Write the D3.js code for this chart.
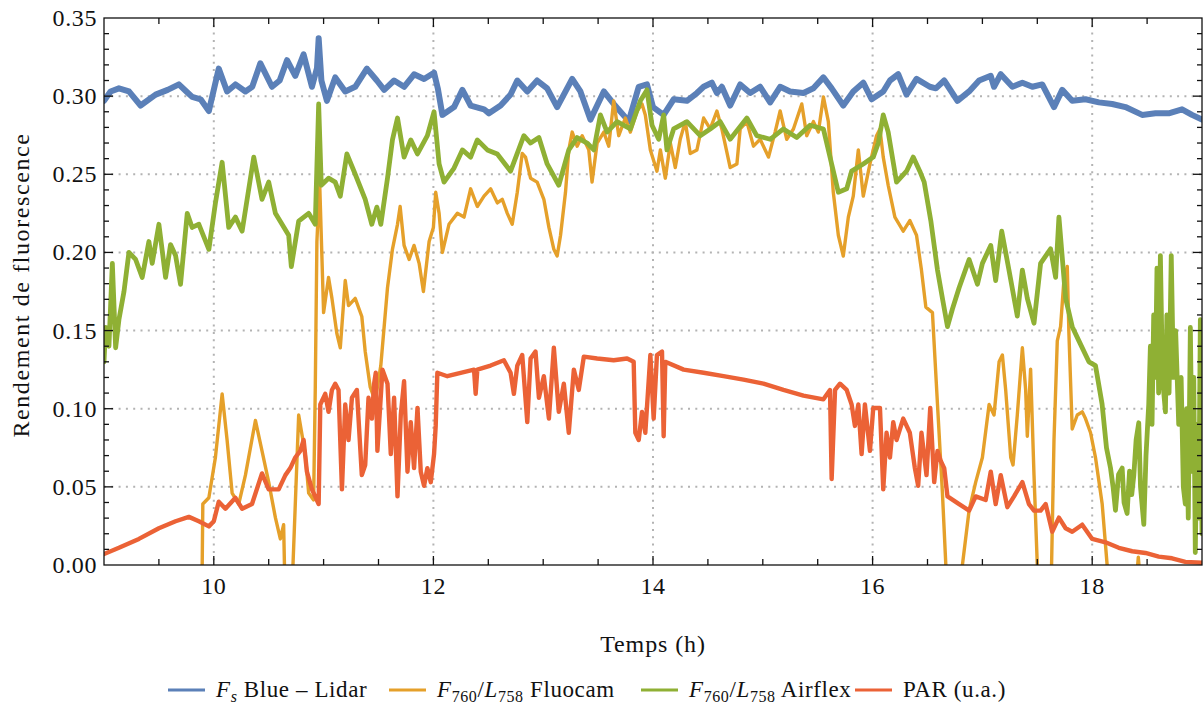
<!DOCTYPE html>
<html><head><meta charset="utf-8">
<script src="https://cdn.jsdelivr.net/npm/d3@7"></script>
</head><body style="margin:0;background:#fff">
<svg id="c" width="1203" height="704" font-family="Liberation Serif"></svg>
<script>
// ---------- data (hours, value) ----------
const fsBlue = [[9.00,0.297],[9.06,0.303],[9.136,0.305],[9.227,0.303],[9.333,0.294],[9.47,0.301],[9.58,0.304],[9.682,0.3075],[9.75,0.303],[9.803,0.2995],[9.88,0.298],[9.955,0.2905],[10.045,0.3176],[10.121,0.303],[10.197,0.3075],[10.288,0.303],[10.35,0.306],[10.424,0.321],[10.53,0.306],[10.60,0.31],[10.667,0.323],[10.742,0.313],[10.818,0.3267],[10.894,0.306],[10.94,0.318],[10.955,0.337],[10.98,0.31],[11.03,0.297],[11.106,0.312],[11.197,0.303],[11.288,0.306],[11.394,0.3176],[11.485,0.31],[11.552,0.304],[11.642,0.31],[11.733,0.306],[11.824,0.314],[11.915,0.311],[12.006,0.315],[12.04,0.305],[12.082,0.288],[12.188,0.293],[12.264,0.304],[12.339,0.294],[12.461,0.2916],[12.506,0.289],[12.612,0.294],[12.703,0.301],[12.764,0.31],[12.855,0.303],[12.945,0.31],[13.036,0.305],[13.127,0.293],[13.264,0.311],[13.339,0.303],[13.43,0.285],[13.552,0.303],[13.642,0.295],[13.779,0.284],[13.87,0.306],[13.945,0.3075],[14.0,0.293],[14.097,0.288],[14.188,0.298],[14.309,0.297],[14.4,0.302],[14.461,0.306],[14.536,0.3086],[14.582,0.302],[14.627,0.306],[14.703,0.294],[14.794,0.3075],[14.885,0.302],[14.976,0.306],[15.067,0.296],[15.158,0.306],[15.248,0.303],[15.37,0.302],[15.461,0.305],[15.552,0.312],[15.627,0.305],[15.733,0.294],[15.824,0.303],[15.915,0.3086],[15.991,0.298],[16.097,0.303],[16.158,0.31],[16.233,0.314],[16.309,0.301],[16.4,0.311],[16.521,0.306],[16.576,0.305],[16.652,0.31],[16.773,0.297],[16.879,0.303],[16.97,0.31],[17.076,0.313],[17.106,0.306],[17.167,0.314],[17.273,0.306],[17.364,0.3086],[17.455,0.306],[17.545,0.3075],[17.652,0.293],[17.727,0.304],[17.818,0.297],[17.939,0.298],[18.061,0.296],[18.182,0.295],[18.303,0.293],[18.455,0.288],[18.576,0.289],[18.697,0.289],[18.818,0.2916],[18.909,0.288],[19.0,0.285]];

const fluocam = [[9.89,-0.03],[9.90,0.039],[9.955,0.043],[10.015,0.069],[10.076,0.1095],[10.121,0.08],[10.167,0.046],[10.227,0.039],[10.288,0.0575],[10.379,0.0925],[10.439,0.073],[10.5,0.053],[10.561,0.0303],[10.606,0.0167],[10.636,0.0258],[10.652,-0.03],[10.705,-0.03],[10.773,0.096],[10.833,0.071],[10.864,0.046],[10.909,0.0416],[10.924,0.112],[10.939,0.207],[10.964,0.245],[11.0,0.1615],[11.045,0.184],[11.076,0.1706],[11.121,0.148],[11.152,0.139],[11.197,0.182],[11.227,0.166],[11.288,0.1706],[11.348,0.159],[11.379,0.1366],[11.424,0.114],[11.47,0.105],[11.521,0.1276],[11.582,0.1774],[11.627,0.202],[11.673,0.218],[11.697,0.2294],[11.733,0.2045],[11.779,0.1955],[11.824,0.2045],[11.87,0.193],[11.909,0.175],[11.961,0.207],[12.0,0.216],[12.021,0.2385],[12.052,0.225],[12.082,0.2],[12.142,0.218],[12.218,0.225],[12.279,0.2226],[12.339,0.2407],[12.4,0.2294],[12.461,0.236],[12.521,0.2407],[12.582,0.2317],[12.627,0.234],[12.673,0.225],[12.718,0.218],[12.764,0.2385],[12.809,0.2633],[12.839,0.261],[12.885,0.2475],[12.945,0.245],[13.006,0.234],[13.052,0.216],[13.097,0.202],[13.127,0.1977],[13.158,0.211],[13.203,0.2385],[13.233,0.2656],[13.264,0.277],[13.309,0.268],[13.355,0.2747],[13.415,0.2656],[13.445,0.245],[13.491,0.27],[13.552,0.277],[13.597,0.268],[13.642,0.297],[13.688,0.2747],[13.748,0.286],[13.794,0.277],[13.855,0.2905],[13.9,0.295],[13.93,0.288],[13.976,0.2656],[14.036,0.252],[14.067,0.2656],[14.112,0.2475],[14.158,0.27],[14.203,0.2543],[14.248,0.2724],[14.294,0.2837],[14.339,0.2633],[14.4,0.2656],[14.461,0.286],[14.521,0.279],[14.582,0.2905],[14.627,0.279],[14.703,0.2543],[14.764,0.2566],[14.794,0.279],[14.855,0.2837],[14.915,0.268],[14.976,0.2724],[15.052,0.261],[15.112,0.277],[15.158,0.2905],[15.218,0.2724],[15.279,0.279],[15.355,0.295],[15.4,0.2747],[15.461,0.2837],[15.506,0.277],[15.552,0.2995],[15.597,0.2837],[15.642,0.2385],[15.688,0.211],[15.733,0.1977],[15.779,0.2226],[15.824,0.236],[15.87,0.2656],[15.915,0.236],[15.976,0.2566],[16.036,0.2747],[16.067,0.279],[16.097,0.261],[16.142,0.243],[16.203,0.2226],[16.279,0.2136],[16.339,0.2204],[16.4,0.211],[16.445,0.1887],[16.485,0.165],[16.545,0.1615],[16.591,0.1027],[16.636,0.046],[16.667,0.0],[16.685,-0.03],[16.80,-0.03],[16.818,0.0],[16.879,0.035],[16.939,0.053],[17.0,0.0688],[17.061,0.1027],[17.106,0.096],[17.152,0.13],[17.182,0.1344],[17.212,0.112],[17.258,0.0688],[17.279,0.064],[17.318,0.096],[17.364,0.139],[17.394,0.112],[17.409,0.0824],[17.439,0.1253],[17.47,0.0575],[17.5,0.0],[17.515,-0.03],[17.606,-0.03],[17.63,0.0],[17.652,0.08],[17.682,0.1434],[17.712,0.1525],[17.742,0.182],[17.773,0.191],[17.788,0.148],[17.818,0.087],[17.864,0.096],[17.909,0.098],[17.939,0.0937],[17.985,0.0846],[18.03,0.0688],[18.091,0.039],[18.136,0.0],[18.152,-0.03],[18.379,-0.03],[18.42,0.005],[18.46,-0.03]];

const airflex = [[9.0,0.13],[9.015,0.152],[9.045,0.14],[9.076,0.193],[9.106,0.139],[9.136,0.157],[9.182,0.175],[9.227,0.2],[9.288,0.1955],[9.348,0.184],[9.409,0.207],[9.439,0.193],[9.5,0.218],[9.561,0.184],[9.606,0.205],[9.652,0.198],[9.697,0.1796],[9.758,0.225],[9.803,0.216],[9.864,0.218],[9.955,0.202],[10.015,0.2317],[10.076,0.2577],[10.136,0.216],[10.197,0.2226],[10.258,0.2136],[10.364,0.261],[10.439,0.234],[10.5,0.245],[10.561,0.225],[10.682,0.211],[10.706,0.191],[10.773,0.22],[10.864,0.225],[10.924,0.218],[10.955,0.295],[10.979,0.243],[11.045,0.2475],[11.106,0.245],[11.152,0.236],[11.212,0.263],[11.288,0.25],[11.379,0.234],[11.439,0.218],[11.485,0.229],[11.521,0.218],[11.582,0.2475],[11.627,0.272],[11.673,0.286],[11.733,0.261],[11.794,0.272],[11.855,0.263],[11.945,0.2747],[12.006,0.29],[12.052,0.2566],[12.097,0.245],[12.188,0.254],[12.264,0.2656],[12.339,0.261],[12.4,0.272],[12.491,0.2656],[12.582,0.263],[12.703,0.252],[12.824,0.2747],[12.885,0.27],[12.961,0.2735],[13.036,0.2566],[13.142,0.243],[13.233,0.2656],[13.309,0.2735],[13.4,0.27],[13.461,0.2656],[13.521,0.288],[13.582,0.277],[13.673,0.2837],[13.794,0.279],[13.885,0.297],[13.945,0.304],[13.991,0.2814],[14.052,0.2724],[14.097,0.288],[14.127,0.2656],[14.188,0.279],[14.309,0.2837],[14.43,0.2747],[14.521,0.279],[14.612,0.2837],[14.703,0.2724],[14.855,0.286],[14.945,0.2747],[15.067,0.2724],[15.188,0.279],[15.309,0.2735],[15.43,0.2814],[15.552,0.279],[15.627,0.2566],[15.688,0.2385],[15.764,0.2407],[15.809,0.252],[15.915,0.2566],[16.006,0.261],[16.052,0.27],[16.097,0.288],[16.142,0.277],[16.218,0.245],[16.309,0.252],[16.37,0.261],[16.43,0.252],[16.47,0.245],[16.53,0.2204],[16.591,0.1887],[16.636,0.1706],[16.682,0.1525],[16.727,0.1638],[16.788,0.1774],[16.879,0.1955],[16.955,0.1796],[17.0,0.193],[17.076,0.2045],[17.121,0.182],[17.176,0.2136],[17.242,0.1887],[17.318,0.1593],[17.364,0.1887],[17.409,0.1706],[17.47,0.1547],[17.53,0.193],[17.621,0.2023],[17.667,0.184],[17.697,0.2226],[17.758,0.1706],[17.818,0.1525],[17.879,0.1434],[17.97,0.13],[18.03,0.1276],[18.09,0.103],[18.13,0.075],[18.167,0.062],[18.19,0.05],[18.212,0.035],[18.24,0.058],[18.273,0.062],[18.29,0.04],[18.318,0.033],[18.34,0.06],[18.36,0.045],[18.379,0.0575],[18.40,0.08],[18.424,0.091],[18.44,0.05],[18.47,0.026],[18.49,0.07],[18.515,0.103],[18.53,0.14],[18.545,0.09],[18.56,0.16],[18.576,0.12],[18.59,0.19],[18.605,0.11],[18.621,0.198],[18.64,0.12],[18.667,0.098],[18.68,0.16],[18.70,0.11],[18.72,0.198],[18.74,0.12],[18.76,0.15],[18.788,0.09],[18.81,0.12],[18.83,0.05],[18.848,0.039],[18.86,0.10],[18.875,0.03],[18.894,0.152],[18.91,0.06],[18.925,0.12],[18.939,0.008],[18.955,0.09],[18.97,0.03],[18.985,0.157],[19.0,0.02]];

const par = [[9.0,0.007],[9.136,0.011],[9.318,0.0167],[9.5,0.0235],[9.652,0.028],[9.773,0.0308],[9.864,0.028],[9.955,0.0247],[10.0,0.028],[10.045,0.0405],[10.106,0.036],[10.197,0.043],[10.258,0.036],[10.348,0.039],[10.439,0.0586],[10.5,0.0484],[10.591,0.0484],[10.652,0.0575],[10.697,0.062],[10.742,0.0688],[10.788,0.073],[10.818,0.08],[10.848,0.0597],[10.894,0.0484],[10.955,0.039],[10.97,0.1027],[11.015,0.1095],[11.045,0.098],[11.076,0.112],[11.106,0.116],[11.136,0.112],[11.167,0.0484],[11.197,0.1027],[11.227,0.08],[11.258,0.107],[11.303,0.112],[11.348,0.0575],[11.379,0.064],[11.409,0.107],[11.44,0.0937],[11.46,0.116],[11.475,0.123],[11.49,0.073],[11.536,0.125],[11.582,0.116],[11.612,0.071],[11.642,0.107],[11.673,0.0439],[11.703,0.096],[11.733,0.1176],[11.764,0.0597],[11.794,0.0914],[11.824,0.062],[11.855,0.1005],[11.885,0.0597],[11.915,0.0507],[11.945,0.062],[11.976,0.053],[12.006,0.071],[12.021,0.089],[12.036,0.123],[12.127,0.1208],[12.248,0.123],[12.37,0.125],[12.385,0.1095],[12.4,0.125],[12.521,0.1276],[12.642,0.131],[12.703,0.123],[12.733,0.1095],[12.764,0.1276],[12.809,0.1344],[12.855,0.0914],[12.885,0.1321],[12.93,0.1366],[12.961,0.107],[13.006,0.1208],[13.052,0.0937],[13.097,0.139],[13.142,0.098],[13.188,0.116],[13.233,0.0846],[13.279,0.125],[13.324,0.112],[13.37,0.1333],[13.491,0.1321],[13.642,0.131],[13.764,0.1321],[13.824,0.13],[13.839,0.0846],[13.87,0.08],[13.9,0.098],[13.93,0.0846],[13.976,0.1344],[14.006,0.0937],[14.036,0.1344],[14.082,0.1366],[14.097,0.0824],[14.112,0.13],[14.279,0.125],[14.461,0.123],[14.642,0.1208],[14.824,0.1186],[15.006,0.116],[15.188,0.112],[15.37,0.1084],[15.552,0.106],[15.612,0.112],[15.627,0.055],[15.658,0.112],[15.703,0.116],[15.764,0.112],[15.809,0.1027],[15.839,0.089],[15.87,0.1027],[15.9,0.071],[15.93,0.1027],[15.976,0.073],[16.006,0.1005],[16.067,0.1005],[16.097,0.0484],[16.127,0.0846],[16.158,0.0688],[16.188,0.0914],[16.218,0.08],[16.279,0.0937],[16.339,0.0846],[16.385,0.062],[16.415,0.0507],[16.445,0.0846],[16.491,0.0575],[16.525,0.1005],[16.561,0.053],[16.591,0.073],[16.621,0.0665],[16.652,0.062],[16.682,0.0439],[16.788,0.039],[16.879,0.0348],[16.939,0.0439],[17.03,0.0416],[17.076,0.0597],[17.121,0.039],[17.167,0.0575],[17.227,0.037],[17.288,0.0439],[17.364,0.053],[17.424,0.039],[17.47,0.0348],[17.53,0.0348],[17.576,0.039],[17.636,0.0213],[17.697,0.0303],[17.758,0.0235],[17.818,0.0213],[17.909,0.0258],[18.0,0.0167],[18.121,0.0145],[18.242,0.011],[18.364,0.0088],[18.485,0.0077],[18.606,0.0054],[18.727,0.0043],[18.848,0.002],[19.0,0.0014]];

const xTickValues = [10, 12, 14, 16, 18];
const yTickValues = [0, 0.05, 0.10, 0.15, 0.20, 0.25, 0.30, 0.35];
const seriesColors = ["#5b80b8", "#e5a02a", "#8fb034", "#eb6236"];

// ---------- layout ----------
const FONT = "Liberation Serif";
const svg = d3.select("#c");
const L = 104, R = 1202, T = 18, B = 565;
const x = d3.scaleLinear().domain([9, 19]).range([L, R]);
const y = d3.scaleLinear().domain([0, 0.35]).range([B, T]);

svg.append("rect").attr("width",1203).attr("height",704).attr("fill","#fff");
svg.append("clipPath").attr("id","clip").append("rect")
  .attr("x",L).attr("y",T).attr("width",R-L).attr("height",B-T);

// grid
const grid = svg.append("g").attr("stroke","#b3b3b3").attr("stroke-width",2).attr("stroke-dasharray","2,5.3");
grid.selectAll("line.gx").data(xTickValues).join("line")
  .attr("x1",d=>x(d)).attr("x2",d=>x(d)).attr("y1",T).attr("y2",B);
grid.selectAll("line.gy").data(yTickValues.filter(v=>v>0 && v<0.35)).join("line")
  .attr("y1",d=>y(d)).attr("y2",d=>y(d)).attr("x1",L).attr("x2",R);

// series
const line = d3.line().x(d=>x(d[0])).y(d=>y(d[1]));
const plot = svg.append("g").attr("clip-path","url(#clip)").attr("fill","none")
  .attr("stroke-linejoin","round").attr("stroke-linecap","round");
const seriesWidths = [6, 3.4, 4.8, 4.4];
[fsBlue, fluocam, airflex, par].forEach((data,i)=>{
  plot.append("path").datum(data).attr("d",line)
    .attr("stroke",seriesColors[i]).attr("stroke-width",seriesWidths[i]);
});

// frame + inward ticks on all 4 sides
const frame = svg.append("g").attr("stroke","#111").attr("stroke-width",1.3);
const xMinor = d3.range(9.5, 19, 0.5);
const yMinor = d3.range(0.01, 0.35, 0.01);
const isMajX = v => xTickValues.some(t=>Math.abs(t-v)<1e-6);
const isMajY = v => yTickValues.some(t=>Math.abs(t-v)<1e-6);
xMinor.forEach(v=>{
  const len = isMajX(v) ? 9 : 6;
  frame.append("line").attr("x1",x(v)).attr("x2",x(v)).attr("y1",B).attr("y2",B-len);
  frame.append("line").attr("x1",x(v)).attr("x2",x(v)).attr("y1",T).attr("y2",T+len);
});
yMinor.forEach(v=>{
  const len = isMajY(+v.toFixed(3)) ? 9 : 5;
  frame.append("line").attr("y1",y(v)).attr("y2",y(v)).attr("x1",L).attr("x2",L+len);
  frame.append("line").attr("y1",y(v)).attr("y2",y(v)).attr("x1",R).attr("x2",R-len);
});
frame.append("rect").attr("x",L).attr("y",T).attr("width",R-L).attr("height",B-T).attr("fill","none");

// tick labels (plain text placed with the scales)
const labels = svg.append("g").attr("font-family",FONT).attr("font-size",24).attr("fill","#111");
labels.selectAll("text.xt").data(xTickValues).join("text")
  .attr("x",d=>x(d)).attr("y",594).attr("text-anchor","middle")
  .attr("font-family",FONT).attr("style","font-family:'Liberation Serif'").attr("font-size",24).attr("letter-spacing","0.6px")
  .text(d=>d3.format("d")(d));
labels.selectAll("text.yt").data(yTickValues).join("text")
  .attr("x",L-7).attr("y",d=>y(d)+8).attr("text-anchor","end")
  .attr("font-family",FONT).attr("style","font-family:'Liberation Serif'").attr("font-size",24).attr("letter-spacing","0.6px")
  .text(d=>d3.format(".2f")(d));

// axis titles
labels.append("text").attr("x",(L+R)/2).attr("y",652).attr("text-anchor","middle").attr("font-family",FONT)
  .attr("style","font-family:'Liberation Serif'").attr("font-size",24).attr("letter-spacing","0.9px").text("Temps (h)");
labels.append("text").attr("transform","translate(29,285) rotate(-90)").attr("text-anchor","middle").attr("font-family",FONT)
  .attr("style","font-family:'Liberation Serif'").attr("font-size",24).attr("letter-spacing","1.6px").text("Rendement de fluorescence");

// legend (fixed positions)
const legendX = [168, 389, 641, 855];
const legendItems = [
  [{t:"F",i:true},{t:"s",i:true,sub:true},{t:" Blue – Lidar"}],
  [{t:"F",i:true},{t:"760",sub:true},{t:"/"},{t:"L",i:true},{t:"758",sub:true},{t:" Fluocam"}],
  [{t:"F",i:true},{t:"760",sub:true},{t:"/"},{t:"L",i:true},{t:"758",sub:true},{t:" Airflex"}],
  [{t:"PAR (u.a.)"}]
];
const legend = svg.append("g").attr("font-family",FONT).attr("font-size",23).attr("fill","#111");
legendItems.forEach((parts,i)=>{
  const g = legend.append("g").attr("transform",`translate(${legendX[i]},690)`);
  g.append("line").attr("x1",0).attr("x2",37).attr("y1",0).attr("y2",0)
    .attr("stroke",seriesColors[i]).attr("stroke-width",3);
  const tx = g.append("text").attr("x",48).attr("y",7).attr("font-size",23).attr("font-family",FONT)
    .attr("style","font-family:'Liberation Serif'").attr("letter-spacing","0.6px");
  let shifted = false;
  parts.forEach(p=>{
    const ts = tx.append("tspan").text(p.t);
    if(p.i) ts.attr("font-style","italic");
    if(p.sub){ ts.attr("font-size",16).attr("dy",5); shifted = true; }
    else if(shifted){ ts.attr("dy",-5); shifted = false; }
  });
});
</script>
</body></html>
